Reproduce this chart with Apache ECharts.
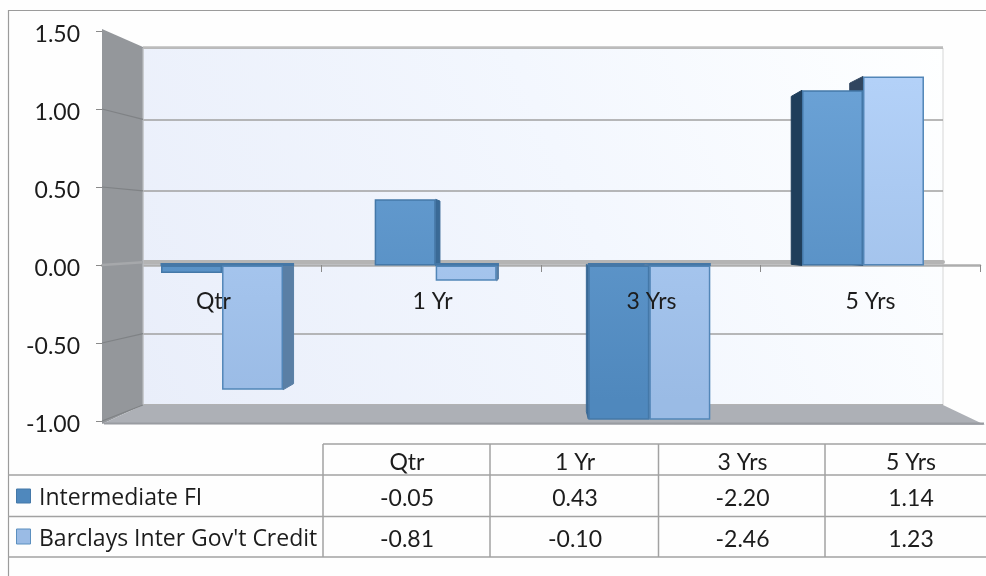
<!DOCTYPE html>
<html>
<head>
<meta charset="utf-8">
<style>html,body{margin:0;padding:0;background:#fff}#main{width:986px;height:576px}</style>
<script src="https://cdn.jsdelivr.net/npm/echarts@6/dist/echarts.min.js"></script>
</head>
<body>
<div id="main"></div>
<script>
var categories = ['Qtr', '1 Yr', '3 Yrs', '5 Yrs'];
var seriesNames = ['Intermediate FI', "Barclays Inter Gov't Credit"];
var intermediate = [-0.05, 0.43, -2.20, 1.14];
var barclays = [-0.81, -0.10, -2.46, 1.23];
var yTicks = [1.5, 1, 0.5, 0, -0.5, -1];

var font = 'Lato';
var legendFont = 'Open Sans';
var textColor = '#1c1c1c';
var lineGray = '#a2a2a2';

// lighter towards the top of the plot, like the original bevel
function fill(top, bottom) {
  return { type: 'linear', x: 0, y: 80, x2: 0, y2: 400, global: true,
    colorStops: [{ offset: 0, color: top }, { offset: 1, color: bottom }] };
}
var darkFill = fill('#6ba2d6', '#4f88bd');
var lightFill = fill('#b3d1f8', '#9abbe5');

var BAR_SHARE = 0.2855;
var VANISH_X = 540, VANISH_Y = 240, DEPTH = 0.041;

// depth faces of the bars, the side turned towards the middle of the chart
function sideFace(color, seriesIdx) {
  return function (params, api) {
    var cat = api.value(0);
    var raw = api.value(1);
    var v = Math.max(-1, Math.min(1.5, raw));
    var w = api.size([1, 0])[0] * BAR_SHARE;
    var mid = api.coord([cat, 0])[0];
    var left = seriesIdx === 0 ? mid - w : mid;
    var edge = mid < VANISH_X ? left + w : left;
    var y0 = api.coord([cat, 0])[1];
    var y1 = api.coord([cat, v])[1];
    var dx = (VANISH_X - edge) * DEPTH;
    var faces = [{
      type: 'polygon',
      shape: { points: [
        [edge, y0], [edge, y1],
        [edge + dx, y1 + (VANISH_Y - y1) * DEPTH],
        [edge + dx, y0 + (VANISH_Y - y0) * DEPTH]
      ] },
      style: { fill: color(cat), stroke: color(cat), lineWidth: 1 }
    }];
    // bars hanging below zero show a thin dark top
    if (raw < 0) {
      faces.push({
        type: 'rect',
        shape: { x: left - 0.5, y: y0 - 2.5, width: w + (mid < VANISH_X ? dx : 0) + 1, height: 3 },
        style: { fill: '#4577a6' }
      });
    }
    return { type: 'group', children: faces };
  };
}
function pairs(values) {
  return values.map(function (v, i) { return [i, v]; });
}

var hiddenX = { type: 'category', data: categories, show: false };
var hiddenY = { type: 'value', min: -1, max: 1.5, interval: 0.5, show: false };

var chart = echarts.init(document.getElementById('main'), null, { renderer: 'canvas' });
chart.setOption({
  animation: false,
  backgroundColor: '#fefefe',
  grid: [
    // back wall
    { left: 143, right: 43, top: 48, bottom: 171, show: true, borderColor: '#d6d6d6', borderWidth: 1,
      backgroundColor: { type: 'linear', x: 0, y: 1, x2: 1, y2: 0,
        colorStops: [{ offset: 0, color: '#e9eefa' }, { offset: 0.55, color: '#f3f7fe' }, { offset: 1, color: '#feffff' }] } },
    // front axis with ticks
    { left: 102, right: 6, top: 31, bottom: 155 },
    // value labels, a little below their ticks
    { left: 104, right: 6, top: 34.5, bottom: 151.5 },
    // bars
    { left: 115.2, right: 16.2, top: 35, bottom: 157 },
    // category labels, they sit over the bars; the grid ends at the zero line
    { left: 104, right: 6, top: 31, bottom: 307.5 }
  ],
  xAxis: [
    { gridIndex: 0, type: 'category', data: categories,
      axisLine: { onZero: true, lineStyle: { color: '#b4b4b4', width: 4 } },
      axisTick: { show: false }, axisLabel: { show: false }, splitLine: { show: false } },
    { gridIndex: 1, type: 'category', data: categories,
      axisLine: { onZero: true, lineStyle: { color: '#adadad', width: 2.5 } },
      axisTick: { show: true, length: 7, lineStyle: { color: '#8a8a8a' } },
      axisLabel: { show: false } },
    Object.assign({ gridIndex: 2 }, hiddenX),
    Object.assign({ gridIndex: 3 }, hiddenX),
    { gridIndex: 4, type: 'category', data: categories, z: 6,
      axisLine: { show: false, onZero: false }, axisTick: { show: false },
      axisLabel: { show: true, margin: 22, fontFamily: font, fontSize: 23, color: textColor } }
  ],
  yAxis: [
    { gridIndex: 0, type: 'value', min: -1, max: 1.5, interval: 0.5,
      axisLine: { show: false }, axisTick: { show: false }, axisLabel: { show: false },
      splitLine: { show: true, lineStyle: { color: '#a0a0a0', width: 1.6 } } },
    { gridIndex: 1, type: 'value', min: -1, max: 1.5, interval: 0.5,
      axisLine: { show: false },
      axisTick: { show: true, length: 6, lineStyle: { color: '#8a8a8a' } },
      axisLabel: { show: false },
      splitLine: { show: false } },
    { gridIndex: 2, type: 'value', min: -1, max: 1.5, interval: 0.5,
      axisLine: { show: false }, axisTick: { show: false }, splitLine: { show: false },
      axisLabel: { margin: 24, fontFamily: font, fontSize: 23, color: textColor,
        formatter: function (v) { return v.toFixed(2); } } },
    Object.assign({ gridIndex: 3 }, hiddenY),
    Object.assign({ gridIndex: 4 }, hiddenY)
  ],
  series: [
    { name: 'side1', type: 'custom', xAxisIndex: 3, yAxisIndex: 3, z: 3, clip: false,
      data: pairs(intermediate), encode: { x: 0, y: 1 },
      renderItem: sideFace(function (cat) { return cat === 3 ? '#1f3e5b' : '#3a6a96'; }, 0) },
    { name: 'side2', type: 'custom', xAxisIndex: 3, yAxisIndex: 3, z: 3, clip: false,
      data: pairs(barclays), encode: { x: 0, y: 1 },
      renderItem: sideFace(function (cat) { return cat === 3 ? '#30455f' : '#5a7fa5'; }, 1) },
    { name: seriesNames[0], type: 'bar', xAxisIndex: 3, yAxisIndex: 3, z: 4,
      data: intermediate, barWidth: '28.55%', barGap: 0,
      itemStyle: { color: darkFill, borderColor: '#4478a8', borderWidth: 1.5 } },
    { name: seriesNames[1], type: 'bar', xAxisIndex: 3, yAxisIndex: 3, z: 4,
      data: barclays, barWidth: '28.55%', barGap: 0,
      itemStyle: { color: lightFill, borderColor: '#5286b8', borderWidth: 1.5 } }
  ]
});

// --- everything around the plot: walls, floor, frame and data table ---
var wallY = function (v) { return chart.convertToPixel({ yAxisIndex: 1 }, v); };
var backY = function (v) { return chart.convertToPixel({ yAxisIndex: 0 }, v); };
var shapes = [];

function line(x1, y1, x2, y2, color, width, z) {
  shapes.push({ type: 'line', z: z || 1, silent: true,
    shape: { x1: x1, y1: y1, x2: x2, y2: y2 },
    style: { stroke: color, lineWidth: width } });
}
function text(str, x, y, align, family, size) {
  shapes.push({ type: 'text', z: 2, x: x, y: y, silent: true,
    style: { text: str, fontFamily: family || font, fontSize: size || 23, fill: textColor,
      textAlign: align || 'center', textVerticalAlign: 'middle' } });
}

// left wall
shapes.push({ type: 'polygon', z: 1, silent: true,
  shape: { points: [[102, 29], [143, 47], [143, 405], [102, 424]] },
  style: { fill: '#94979b' } });
// floor
shapes.push({ type: 'polygon', z: 1, silent: true,
  shape: { points: [[102, 424], [143, 405], [943, 405], [985, 425]] },
  style: { fill: '#adb0b6' } });
line(104, 423.5, 984, 423.5, '#999ca1', 2);
line(143, 47.5, 943, 47.5, '#bcbcbc', 2.5);
line(143, 48, 143, 405, '#b9bcc0', 1.2);

// gridlines running along the wall
yTicks.slice(1).forEach(function (v) {
  line(102, wallY(v), 143, backY(v), v === 0 ? '#a6a8ab' : '#7f8285', v === 0 ? 2.5 : 1.2);
});

// chart frame
line(8, 10.5, 986, 10.5, '#9b9b9b', 1.2);
line(8.5, 10, 8.5, 576, '#9b9b9b', 1.2);

// data table
var colX = [323, 490, 658.5, 825];
var rowY = [444, 475, 516.5, 557];
rowY.forEach(function (y, i) { line(i === 0 ? 323 : 8, y, 986, y, lineGray, 1.5); });
colX.forEach(function (x) { line(x, 444, x, 557, lineGray, 1.5); });

var colMid = [407, 575, 742.5, 911];
var rowMid = [462.5, 498.5, 539.5];
categories.forEach(function (c, i) {
  text(c, colMid[i], rowMid[0]);
  text(intermediate[i].toFixed(2), colMid[i], rowMid[1]);
  text(barclays[i].toFixed(2), colMid[i], rowMid[2]);
});
text(seriesNames[0], 39, rowMid[1], 'left', legendFont, 23);
text(seriesNames[1], 39, rowMid[2], 'left', legendFont, 23);
shapes.push({ type: 'rect', z: 2, silent: true, shape: { x: 16.5, y: 489, width: 14, height: 14 },
  style: { fill: '#4f88bd', stroke: '#4478a8', lineWidth: 1 } });
shapes.push({ type: 'rect', z: 2, silent: true, shape: { x: 16.5, y: 529, width: 14, height: 15 },
  style: { fill: '#9abbe5', stroke: '#5b8fbf', lineWidth: 1 } });

chart.setOption({ graphic: { elements: shapes } });
</script>
</body>
</html>
